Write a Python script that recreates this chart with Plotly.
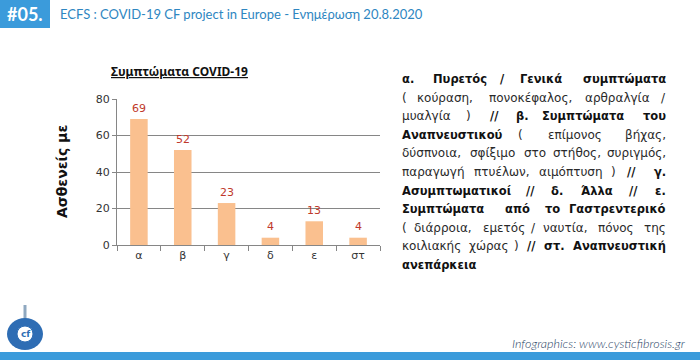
import plotly.graph_objects as go

# ---- data ----
categories = ["α", "β", "γ", "δ", "ε", "στ"]
patients = [69, 52, 23, 4, 13, 4]
y_ticks = [0, 20, 40, 60, 80]

header_num = "#05."
header_title = "ECFS : COVID-19 CF project in Europe - Ενημέρωση 20.8.2020"
chart_title = "Συμπτώματα COVID-19"
y_label = "Ασθενείς με"
footer_text = "Infographics: www.cysticfibrosis.gr"

W, H = 700, 360
L, R, T, B = 117, 380, 99, 245

def px(x):
    return (x - L) / (R - L)

def py(y):
    return (B - y) / (B - T)

fig = go.Figure()
fig.add_trace(go.Bar(
    x=categories, y=patients, width=0.4,
    marker=dict(color="#FAC08F", line=dict(width=0)),
    hoverinfo="skip",
))

ann = []
for c, v in zip(categories, patients):
    ann.append(dict(x=c, y=v, xref="x", yref="y", text=str(v), showarrow=False,
                    yshift=11, font=dict(family="DejaVu Sans", size=11, color="#C0392B")))

ann.append(dict(x=px(109), y=py(72), xref="paper", yref="paper", xanchor="left", yanchor="middle",
                text="<b><u>" + chart_title + "</u></b>", showarrow=False,
                font=dict(family="Noto Sans", size=12, color="#111111")))
ann.append(dict(x=px(62), y=py(172), xref="paper", yref="paper", xanchor="center", yanchor="middle",
                text="<b>" + y_label + "</b>", textangle=-90, showarrow=False,
                font=dict(family="DejaVu Sans", size=14, color="#111111")))
ann.append(dict(x=px(25), y=py(14), xref="paper", yref="paper", xanchor="center", yanchor="middle",
                text="<b>" + header_num + "</b>", showarrow=False,
                font=dict(family="Lato", size=18, color="white")))
ann.append(dict(x=px(58), y=py(14), xref="paper", yref="paper", xanchor="left", yanchor="middle",
                text=header_title, showarrow=False,
                font=dict(family="Lato", size=13, color="#2E86C1")))
ann.append(dict(x=px(688), y=py(343), xref="paper", yref="paper", xanchor="right", yanchor="middle",
                text="<i>" + footer_text + "</i>", showarrow=False,
                font=dict(family="Lato", size=12.5, color="#1F3F66", weight=300)))
ann.append(dict(x=px(25), y=py(334), xref="paper", yref="paper", xanchor="center", yanchor="middle",
                text="<b>cf</b>", showarrow=False,
                font=dict(family="DejaVu Sans", size=9, color="#2E6DB4")))

text_lines = [
    [("α.", 1, "L"), ("Πυρετός", 1, 460), ("/", 1, 503), ("Γενικά", 1, 541), ("συμπτώματα", 1, "R")],
    [("(", 0, "L"), ("κούραση,", 0, 445), ("πονοκέφαλος,", 0, 530), ("αρθραλγία", 0, 617), ("/", 0, "R")],
    [("μυαλγία", 0, "L"), (")", 0, 468), ("//", 1, 494), ("β.", 1, 522), ("Συμπτώματα", 1, 583), ("του", 1, "R")],
    [("Αναπνευστικού", 1, "L"), ("(", 0, 520), ("επίμονος", 0, 575), ("βήχας,", 0, "R")],
    [("δύσπνοια,", 0, "L"), ("σφίξιμο", 0, 492), ("στο", 0, 535), ("στήθος,", 0, 577), ("συριγμός,", 0, "R")],
    [("παραγωγή", 0, "L"), ("πτυέλων,", 0, 502), ("αιμόπτυση", 0, 571), (")", 0, 613), ("//", 1, 631), ("γ.", 1, "R")],
    [("Ασυμπτωματικοί", 1, "L"), ("//", 1, 530), ("δ.", 1, 557), ("Άλλα", 1, 597), ("//", 1, 633), ("ε.", 1, "R")],
    [("Συμπτώματα", 1, "L"), ("από", 1, 517), ("το", 1, 552), ("Γαστρεντερικό", 1, "R")],
    [("(", 0, "L"), ("διάρροια,", 0, 443), ("εμετός", 0, 504), ("/", 0, 533), ("ναυτία,", 0, 565), ("πόνος", 0, 616), ("της", 0, "R")],
    [("κοιλιακής", 0, "L"), ("χώρας", 0, 489), (")", 0, 516), ("//", 1, 531), ("στ.", 1, 554), ("Αναπνευστική", 1, "R")],
    [("ανεπάρκεια", 1, "L")],
]
TX_L, TX_R, Y0, DY = 400, 668, 79, 18.6
for i, line in enumerate(text_lines):
    yy = Y0 + i * DY
    for word, bold, pos in line:
        if pos == "L":
            xx, anc = TX_L, "left"
        elif pos == "R":
            xx, anc = TX_R, "right"
        else:
            xx, anc = pos, "center"
        ann.append(dict(x=px(xx), y=py(yy), xref="paper", yref="paper", xanchor=anc, yanchor="middle",
                        text=("<b>%s</b>" % word) if bold else word, showarrow=False,
                        font=dict(family="DejaVu Sans", size=11.5 if bold else 12,
                                  color="#111111" if bold else "#2a2a2a")))

shapes = [
    dict(type="rect", xref="paper", yref="paper", x0=px(0), x1=px(50), y0=py(0), y1=py(28),
         fillcolor="#3B9BDB", line=dict(width=0), layer="below"),
    dict(type="rect", xref="paper", yref="paper", x0=px(0), x1=px(700), y0=py(352), y1=py(360),
         fillcolor="#3B9BDB", line=dict(width=0), layer="below"),
    dict(type="line", xref="paper", yref="paper", x0=px(25), x1=px(25), y0=py(305), y1=py(322),
         line=dict(color="#8FA8C0", width=3)),
    dict(type="circle", xref="paper", yref="paper", x0=px(7), x1=px(43), y0=py(318), y1=py(350),
         fillcolor="#2E6DB4", line=dict(width=0)),
    dict(type="circle", xref="paper", yref="paper", x0=px(17), x1=px(33), y0=py(326), y1=py(342),
         fillcolor="white", line=dict(color="#2E6DB4", width=1)),
]

fig.update_layout(
    width=W, height=H,
    margin=dict(l=L, r=W - R, t=T, b=H - B, pad=0),
    paper_bgcolor="white", plot_bgcolor="white",
    showlegend=False,
    annotations=ann, shapes=shapes,
    xaxis=dict(type="category", range=[-0.5, 5.5], showgrid=False,
               showline=True, linecolor="#868686", linewidth=1,
               ticks="outside", tickson="boundaries", ticklen=5, tickcolor="#868686",
               tickfont=dict(family="DejaVu Sans", size=11, color="#333333"),
               fixedrange=True),
    yaxis=dict(range=[0, 80], tickvals=y_ticks, showgrid=True, gridcolor="#868686", gridwidth=1,
               showline=True, linecolor="#868686", linewidth=1,
               ticks="outside", ticklen=4, tickcolor="#868686",
               tickfont=dict(family="DejaVu Sans", size=11, color="#333333"),
               zeroline=False, fixedrange=True),
)

fig.write_html("out.html", config={"displayModeBar": False},
               post_script="document.body.style.margin='0px';document.body.style.overflow='hidden';")
